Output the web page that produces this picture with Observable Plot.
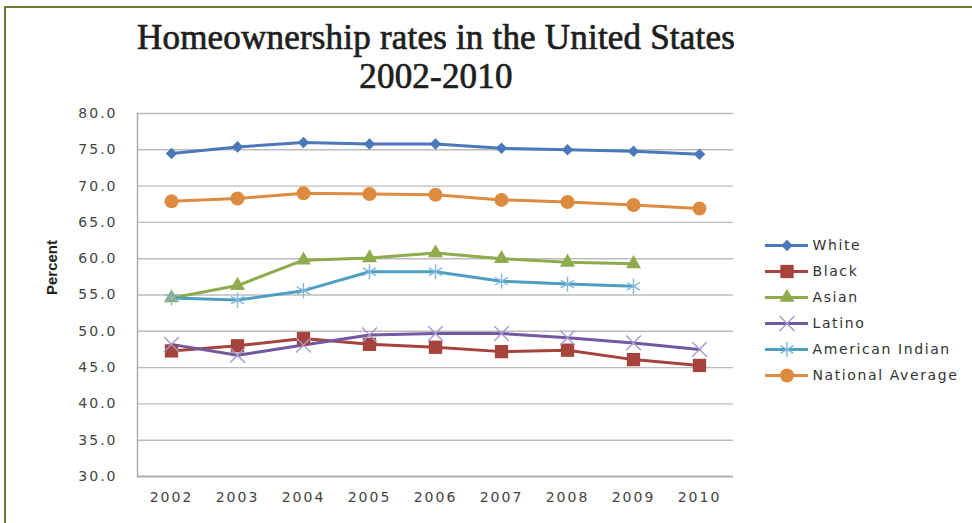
<!DOCTYPE html>
<html><head><meta charset="utf-8">
<script src="https://cdn.jsdelivr.net/npm/d3@7"></script>
<script src="https://cdn.jsdelivr.net/npm/@observablehq/plot@0.6"></script>
<style>
body{margin:0;background:#fff;}
#wrap{position:relative;width:972px;height:523px;overflow:hidden;background:#fff;}
#bt{position:absolute;left:4px;top:6px;width:968px;height:2px;background:#6b7b2d;}
#bl{position:absolute;left:4px;top:6px;width:2px;height:517px;background:#6b7b2d;}
#title{position:absolute;left:0;width:872px;top:18px;text-align:center;font-family:"Liberation Serif",serif;font-weight:normal;font-size:35px;line-height:39px;letter-spacing:0.2px;color:#1e1e1e;-webkit-text-stroke:0.7px #1e1e1e;}
#chart{position:absolute;left:0;top:0;}
#legend{position:absolute;left:765px;top:230px;}
</style></head>
<body>
<div id="wrap">
  <div id="chart"></div>
  <div id="title">Homeownership rates in the United States<br>2002-2010</div>
  <div id="legend"></div>
  <div id="bt"></div><div id="bl"></div>
</div>
<script>
const years = ["2002","2003","2004","2005","2006","2007","2008","2009","2010"];
const yTicks = [30,35,40,45,50,55,60,65,70,75,80];
const seriesNames = ["White","Black","Asian","Latino","American Indian","National Average"];
const white    = [74.5,75.4,76.0,75.8,75.8,75.2,75.0,74.8,74.4];
const black    = [47.3,48.0,49.0,48.2,47.8,47.2,47.4,46.1,45.3];
const asian    = [54.6,56.3,59.8,60.1,60.8,60.0,59.5,59.3,null];
const latino   = [48.2,46.7,48.1,49.5,49.7,49.7,49.1,48.4,47.5];
const amind    = [54.6,54.3,55.6,58.2,58.2,56.9,56.5,56.2,null];
const national = [67.9,68.3,69.0,68.9,68.8,68.1,67.8,67.4,66.9];

const seriesValues = [white, black, asian, latino, amind, national];
const lineColors   = ["#4a78bb","#a5433c","#8fac4d","#7358a2","#4e9ec2","#dd8b3f"];
const markColors   = ["#4a78bb","#a5433c","#8fac4d","#a49bd0","#7fb8dc","#dd8b3f"];
const symbols      = ["diamond2","square","triangle","times","asterisk","circle"];
const radii        = [5.2,7.5,5.6,6.8,7.2,7];
const filled       = [true,true,true,false,false,true];

const data = [];
seriesNames.forEach((s,i)=>years.forEach((y,j)=>{
  const v = seriesValues[i][j];
  if (v != null) data.push({series:s, year:y, value:v});
}));

const font = "DejaVu Sans, Verdana, sans-serif";

const dotMark = (rows, i, opts) => Plot.dot(rows, Object.assign({
  symbol: symbols[i], r: radii[i],
  fill: filled[i] ? markColors[i] : "none",
  stroke: filled[i] ? "none" : markColors[i],
  strokeWidth: filled[i] ? 0 : 1.4
}, opts));

const chart = Plot.plot({
  width: 972, height: 523,
  marginLeft: 137, marginRight: 239, marginTop: 113, marginBottom: 47,
  style: {fontFamily: font, background: "transparent", overflow: "visible"},
  x: {type: "band", domain: years, padding: 0, label: null},
  y: {domain: [30, 80], label: null},
  color: {domain: seriesNames, range: lineColors},
  marks: [
    Plot.gridY(yTicks, {stroke: "#bcbcbc", strokeOpacity: 1, strokeWidth: 1.4}),
    Plot.ruleY([30], {stroke: "#a8a8a8", strokeWidth: 1.4}),
    Plot.frame({anchor: "left", stroke: "#a8a8a8", strokeWidth: 1.4}),
    Plot.axisY(yTicks, {tickSize: 0, tickPadding: 20, tickFormat: d => d.toFixed(1), fontSize: 14, fill: "#444", label: null}),
    Plot.axisX({tickSize: 0, tickPadding: 16, fontSize: 14, fill: "#444", label: null}),
    Plot.text(["Percent"], {frameAnchor: "left", dx: -85, rotate: -90, fontWeight: "bold", fontSize: 15, fontFamily: "Liberation Sans Narrow, Liberation Sans, sans-serif", fill: "#222"}),
    Plot.line(data, {x: "year", y: "value", z: "series", stroke: "series", strokeWidth: 3, curve: "linear"}),
    ...seriesNames.map((s,i) => dotMark(data.filter(d => d.series === s), i, {x: "year", y: "value"}))
  ]
});
d3.select(chart).selectAll("g[aria-label='y-axis tick label'] text, g[aria-label='x-axis tick label'] text").attr("letter-spacing", "2");
document.getElementById("chart").appendChild(chart);

const legend = Plot.plot({
  width: 205, height: 160, margin: 0,
  style: {fontFamily: font, background: "transparent", overflow: "visible"},
  x: {domain: [0, 205], range: [0, 205], axis: null},
  y: {type: "band", domain: seriesNames, padding: 0, axis: null},
  marks: [
    Plot.ruleY(seriesNames, {y: d => d, x1: 0, x2: 43, stroke: (d,i) => lineColors[i], strokeWidth: 3}),
    ...seriesNames.map((s,i) => dotMark([s], i, {x: 21.5, y: d => d})),
    Plot.text(seriesNames, {x: 47, y: d => d, text: d => d, textAnchor: "start", fontSize: 14, fill: "#333"})
  ]
});
d3.select(legend).selectAll("g[aria-label='text'] text").attr("letter-spacing", "1.6");
document.getElementById("legend").appendChild(legend);
</script>
</body></html>
